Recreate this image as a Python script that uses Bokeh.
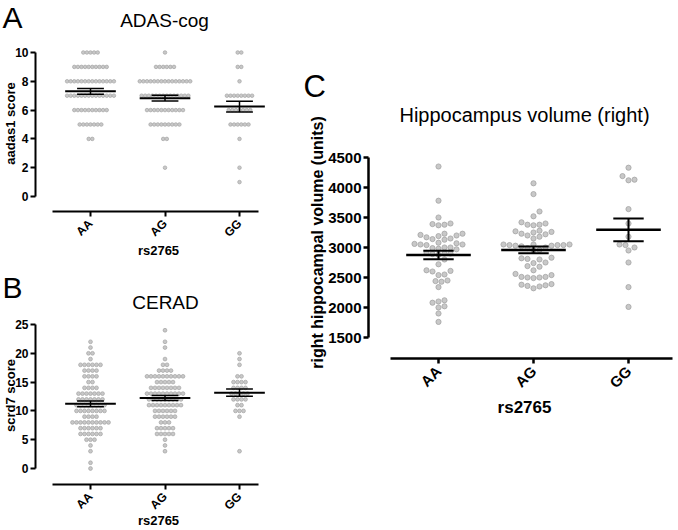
import math
import numpy as np
from bokeh.plotting import figure
from bokeh.layouts import row, column
from bokeh.models import FixedTicker, Label
from bokeh.embed import file_html
from bokeh.resources import INLINE

genotypes = ["AA", "AG", "GG"]
x_title = "rs2765"

# ---- Panel A: ADAS-cog (score value -> number of subjects) ----
adas_title = "ADAS-cog"
adas_ylabel = "aadas1 score"
adas_scores = [10, 9, 8, 7, 6, 5, 4, 2, 1]
adas_AA = [5, 10, 14, 14, 10, 7, 2, 0, 0]
adas_AG = [1, 6, 15, 14, 11, 9, 2, 1, 0]
adas_GG = [2, 2, 1, 8, 7, 6, 1, 1, 1]
adas_yticks = [0, 2, 4, 6, 8, 10]

# ---- Panel B: CERAD ----
cerad_title = "CERAD"
cerad_ylabel = "scrd7 score"
cerad_scores = [24, 23, 22, 21, 20, 19, 18, 17, 16, 15, 14, 13, 12,
                11, 10, 9, 8, 7, 6, 5, 4, 3, 2, 1, 0]
cerad_AA = [0, 0, 1, 1, 2, 1, 6, 4, 4, 2, 4, 7, 7, 8, 8, 4, 10, 6, 6, 3, 1, 1, 0, 1, 1]
cerad_AG = [1, 0, 1, 1, 0, 1, 2, 4, 10, 5, 8, 10, 9, 9, 6, 6, 3, 5, 5, 1, 1, 1, 0, 0, 0]
cerad_GG = [0, 0, 0, 0, 1, 1, 1, 0, 2, 4, 4, 5, 4, 2, 3, 1, 0, 0, 0, 0, 0, 1, 0, 0, 0]
cerad_yticks = [0, 5, 10, 15, 20, 25]

# ---- Panel C: Hippocampus volume (right) ----
hippo_title = "Hippocampus volume (right)"
hippo_ylabel = "right hippocampal volume (units)"
hippo_AA = [4350, 3780, 3500, 3400, 3380, 3370, 3390, 3230, 3210, 3190, 3200, 3230,
            3150, 3130, 3140, 3170, 3080, 3060, 3050, 3070, 3040, 3050,
            3000, 2990, 2980, 2970, 3000, 2900, 2890, 2880, 2900, 2910,
            2800, 2720, 2620, 2600, 2610, 2550, 2540, 2440, 2430, 2450,
            2340, 2120, 2100, 2080, 2000, 2020, 1900, 1760]
hippo_AG = [4070, 3890, 3600, 3520, 3420, 3380, 3370, 3380, 3400, 3270, 3260, 3250, 3280,
            3180, 3200, 3220, 3230, 3150, 3040, 3030, 3050, 3040, 3020, 3050, 3040, 3030, 3050,
            3000, 2990, 2960, 2950, 2820, 2830, 2810, 2800, 2750, 2740, 2680, 2690,
            2620, 2560, 2540, 2500, 2510, 2490, 2500, 2510,
            2380, 2370, 2350, 2320, 2360, 2390]
hippo_GG = [4330, 4190, 4130, 4120, 3640, 3400, 3180, 3050, 3000, 2950, 3040, 2750, 2340, 2010]
hippo_yticks = [1500, 2000, 2500, 3000, 3500, 4000, 4500]

FONT = "Liberation Sans"
DOT_FILL = "#c8c8c8"
DOT_LINE = "#a4a4a4"

# geometry in page pixels: figure (left, top, width, height), axes corner (x of y-axis, y of x-axis)
GEO_A = dict(fig=(0, 0, 300, 268), corner=(35, 211), xref=(1, 90), sx=74.5, yref=(0, 196), sy=14.4)
GEO_B = dict(fig=(0, 268, 300, 262), corner=(35, 484), xref=(1, 90), sx=74.5, yref=(0, 468), sy=5.76)
GEO_C = dict(fig=(300, 0, 378, 530), corner=(368, 358), xref=(1, 438), sx=95.0, yref=(1500, 337), sy=0.06)


def xd(g, px):
    return g["xref"][0] + (px - g["xref"][1]) / g["sx"]


def yd(g, py):
    return g["yref"][0] + (g["yref"][1] - py) / g["sy"]


def make_panel(g, yticks, ybounds, xbounds, tick_px, ax_w):
    fl, ft, W, H = g["fig"]
    p = figure(width=W, height=H, title=None,
               x_range=(xd(g, fl), xd(g, fl + W)), y_range=(yd(g, ft + H), yd(g, ft)),
               min_border=0, min_border_left=0, min_border_right=0,
               min_border_top=0, min_border_bottom=0,
               output_backend="svg", toolbar_location=None)
    p.xgrid.visible = False
    p.ygrid.visible = False
    p.outline_line_color = None
    p.background_fill_color = "white"
    p.border_fill_color = "white"
    for ax in (p.xaxis[0], p.yaxis[0]):
        ax.axis_line_width = ax_w
        ax.axis_line_color = "black"
        ax.major_tick_line_width = ax_w
        ax.major_tick_line_color = "black"
        ax.major_tick_in = 0
        ax.major_tick_out = 5
        ax.minor_tick_line_color = None
        ax.major_label_text_font = FONT
        ax.major_label_text_font_style = "bold"
        ax.major_label_text_font_size = f"{tick_px}px"
        ax.major_label_text_color = "black"
    p.yaxis[0].ticker = FixedTicker(ticks=yticks)
    p.yaxis[0].bounds = ybounds
    p.yaxis[0].major_label_standoff = 2
    p.yaxis[0].fixed_location = xd(g, g["corner"][0])
    p.xaxis[0].ticker = FixedTicker(ticks=[1, 2, 3])
    p.xaxis[0].major_label_overrides = {i + 1: gname for i, gname in enumerate(genotypes)}
    p.xaxis[0].bounds = xbounds
    p.xaxis[0].major_label_orientation = math.pi / 4
    p.xaxis[0].major_label_standoff = 5
    p.xaxis[0].fixed_location = yd(g, g["corner"][1])
    return p


def add_text(p, g, text, px, py, size, bold=False, align="center", angle=0.0):
    # (px, py): page position of the text's visual middle
    p.add_layout(Label(x=xd(g, px), y=yd(g, py), text=text, text_font=FONT,
                       text_font_size=f"{size}px",
                       text_font_style="bold" if bold else "normal",
                       text_align=align, text_baseline="middle",
                       text_color="black", angle=angle))


def rows_layout(scores, counts, cx, step):
    xs, ys = [], []
    for s, n in zip(scores, counts):
        for i in range(n):
            xs.append(cx + (i - (n - 1) / 2.0) * step)
            ys.append(s)
    return xs, ys


def swarm_layout(vals, cx, sx, sy, d):
    vals = np.asarray(vals, dtype=float)
    order = np.argsort(vals)
    cands = [0.0]
    for k in range(1, 60):
        cands += [k * d * 0.5, -k * d * 0.5]
    placed = []
    offs = np.zeros(len(vals))
    for i in order:
        ypx = vals[i] * sy
        for c in cands:
            ok = True
            for (ox, oy) in placed:
                if (c - ox) ** 2 + (ypx - oy) ** 2 < d * d * 0.97:
                    ok = False
                    break
            if ok:
                offs[i] = c
                placed.append((c, ypx))
                break
    return list(cx + offs / sx), list(vals)


def mean_sem(p, cx, vals, half_mean, half_cap, wm, ws):
    v = np.asarray(vals, dtype=float)
    m = v.mean()
    s = v.std(ddof=1) / math.sqrt(len(v))
    p.segment(x0=[cx - half_mean], y0=[m], x1=[cx + half_mean], y1=[m], line_color="black", line_width=wm)
    p.segment(x0=[cx, cx - half_cap, cx - half_cap], y0=[m - s, m - s, m + s],
              x1=[cx, cx + half_cap, cx + half_cap], y1=[m + s, m - s, m + s],
              line_color="black", line_width=ws)


# ---------- Panel A ----------
pA = make_panel(GEO_A, adas_yticks, (0, 10), (0.49, 3.25), 12, 2)
for k, counts in enumerate([adas_AA, adas_AG, adas_GG]):
    xs, ys = rows_layout(adas_scores, counts, k + 1, 3.6 / GEO_A["sx"])
    pA.scatter(xs, ys, size=3.6, fill_color=DOT_FILL, line_color=DOT_LINE, line_width=0.7)
    mean_sem(pA, k + 1, ys, 0.34, 0.18, 2, 1.5)
add_text(pA, GEO_A, "A", 2, 17, 30, align="left")
add_text(pA, GEO_A, adas_title, 164, 20, 19)
add_text(pA, GEO_A, adas_ylabel, 10, 123, 13, bold=True, angle=math.pi / 2)
add_text(pA, GEO_A, x_title, 158, 250, 13, bold=True)

# ---------- Panel B ----------
pB = make_panel(GEO_B, cerad_yticks, (0, 25), (0.49, 3.25), 12, 2)
for k, counts in enumerate([cerad_AA, cerad_AG, cerad_GG]):
    xs, ys = rows_layout(cerad_scores, counts, k + 1, 4.0 / GEO_B["sx"])
    pB.scatter(xs, ys, size=3.8, fill_color=DOT_FILL, line_color=DOT_LINE, line_width=0.7)
    mean_sem(pB, k + 1, ys, 0.34, 0.18, 2, 1.5)
add_text(pB, GEO_B, "B", 2, 287, 30, align="left")
add_text(pB, GEO_B, cerad_title, 165, 301.5, 19)
add_text(pB, GEO_B, cerad_ylabel, 10, 395, 13, bold=True, angle=math.pi / 2)
add_text(pB, GEO_B, x_title, 158, 520, 13, bold=True)

# ---------- Panel C ----------
pC = make_panel(GEO_C, hippo_yticks, (1500, 4500), (0.495, 3.46), 15, 2.5)
for k, vals in enumerate([hippo_AA, hippo_AG, hippo_GG]):
    xs, ys = swarm_layout(vals, k + 1, GEO_C["sx"], GEO_C["sy"], 6.0)
    pC.scatter(xs, ys, size=5.2, fill_color=DOT_FILL, line_color=DOT_LINE, line_width=0.8)
    mean_sem(pC, k + 1, ys, 0.34, 0.16, 2.5, 2)
add_text(pC, GEO_C, "C", 303, 86, 31, align="left")
add_text(pC, GEO_C, hippo_title, 524, 114.5, 20)
add_text(pC, GEO_C, hippo_ylabel, 316.5, 242, 16, bold=True, angle=math.pi / 2)
add_text(pC, GEO_C, x_title, 524, 407, 17, bold=True)

layout = row(column(pA, pB), pC)
open("out.html", "w").write(file_html(layout, INLINE))
